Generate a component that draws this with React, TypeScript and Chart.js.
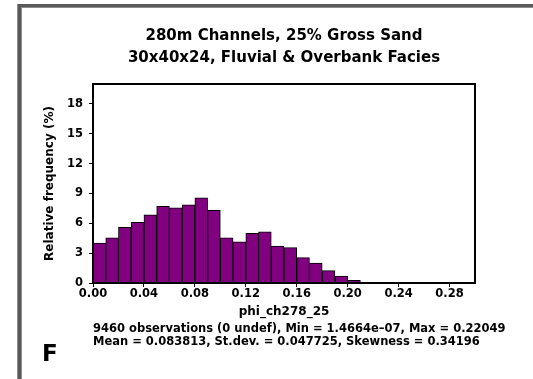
import React, { useEffect, useRef } from "react";
import { Chart, registerables } from "chart.js";

Chart.register(...registerables);

// Histogram bins (bin centres, width 0.01) and relative frequencies (%)
const binCenters = [
  0.005, 0.015, 0.025, 0.035, 0.045, 0.055, 0.065, 0.075, 0.085, 0.095,
  0.105, 0.115, 0.125, 0.135, 0.145, 0.155, 0.165, 0.175, 0.185, 0.195, 0.205,
];
const relFreq = [
  4.0, 4.55, 5.6, 6.1, 6.85, 7.7, 7.55, 7.85, 8.55, 7.3,
  4.55, 4.15, 5.0, 5.15, 3.7, 3.55, 2.55, 2.0, 1.25, 0.7, 0.27,
];

const xMin = 0;
const xMax = 0.3;
const xStep = 0.04;
const yMin = 0;
const yMax = 20;
const yStep = 3;

const titleLines = ["280m Channels, 25% Gross Sand", "30x40x24, Fluvial & Overbank Facies"];
const xLabel = "phi_ch278_25";
const yLabel = "Relative frequency (%)";
const statsLines = [
  "9460 observations (0 undef), Min = 1.4664e\u201307, Max = 0.22049",
  "Mean = 0.083813, St.dev. = 0.047725, Skewness = 0.34196",
];
const panelLetter = "F";

const FONT = "DejaVu Sans";

const decor = {
  id: "decor",
  beforeDraw(chart: any) {
    const { ctx, width, height } = chart;
    ctx.save();
    ctx.fillStyle = "#ffffff";
    ctx.fillRect(0, 0, width, height);
    // grey frame (top and left)
    ctx.fillStyle = "#8c8c8c";
    ctx.fillRect(17, 4, width - 17, 4);
    ctx.fillRect(17, 4, 5, height - 4);
    ctx.fillStyle = "#5a5a5a";
    ctx.fillRect(18, 4, width - 18, 3);
    ctx.fillRect(18, 4, 3, height - 4);
    ctx.restore();
  },
  afterDraw(chart: any) {
    const { ctx, chartArea } = chart;
    ctx.save();
    ctx.strokeStyle = "#000";
    ctx.lineWidth = 2;
    ctx.strokeRect(
      chartArea.left,
      chartArea.top,
      chartArea.right - chartArea.left,
      chartArea.bottom - chartArea.top
    );
    ctx.fillStyle = "#000";
    ctx.font = `bold 11.5px "${FONT}"`;
    ctx.textAlign = "left";
    ctx.textBaseline = "middle";
    statsLines.forEach((line, i) => {
      ctx.fillText(line, chartArea.left, chartArea.bottom + 46 + i * 13.5);
    });
    ctx.font = `bold 23px "${FONT}"`;
    ctx.textBaseline = "alphabetic";
    ctx.fillText(panelLetter, 42, 361);
    ctx.restore();
  },
};

export default function App() {
  const ref = useRef<HTMLCanvasElement | null>(null);

  useEffect(() => {
    if (!ref.current) return;
    const tickFont = { family: FONT, size: 11.5, weight: "bold" as const };
    const chart = new Chart(ref.current, {
      type: "bar",
      data: {
        datasets: [
          {
            data: binCenters.map((x, i) => ({ x, y: relFreq[i] })),
            backgroundColor: "#800080",
            borderColor: "#000000",
            borderWidth: 1,
            barPercentage: 1,
            categoryPercentage: 1,
          },
        ],
      },
      options: {
        animation: false,
        responsive: false,
        devicePixelRatio: 1,
        layout: { padding: { left: 0, right: 58, top: 0, bottom: 60 } },
        plugins: {
          legend: { display: false },
          tooltip: { enabled: false },
          title: {
            display: true,
            fullSize: false,
            text: titleLines,
            color: "#000",
            font: { family: FONT, size: 15, weight: "bold", lineHeight: "22px" },
            padding: { top: 25, bottom: 15 },
          },
        },
        scales: {
          x: {
            type: "linear",
            min: xMin,
            max: xMax,
            offset: false,
            ticks: {
              stepSize: xStep,
              includeBounds: false,
              autoSkip: false,
              maxRotation: 0,
              color: "#000",
              font: tickFont,
              padding: 0,
              callback: (v: any) => Number(v).toFixed(2),
            },
            grid: {
              display: true,
              offset: false,
              drawOnChartArea: false,
              drawTicks: true,
              tickLength: 4,
              color: "#000",
              lineWidth: 1,
            },
            border: { display: true, color: "#000", width: 2 },
            title: {
              display: true,
              text: xLabel,
              color: "#000",
              font: { family: FONT, size: 12, weight: "bold" },
              padding: { top: 0, bottom: 0 },
            },
            afterFit: (s: any) => {
              s.height = 36;
            },
          },
          y: {
            type: "linear",
            min: yMin,
            max: yMax,
            ticks: {
              stepSize: yStep,
              includeBounds: false,
              color: "#000",
              font: tickFont,
              padding: 6,
            },
            grid: {
              display: true,
              drawOnChartArea: false,
              drawTicks: true,
              tickLength: 4,
              color: "#000",
              lineWidth: 1,
            },
            border: { display: true, color: "#000", width: 2 },
            title: {
              display: true,
              text: yLabel,
              color: "#000",
              font: { family: FONT, size: 12, weight: "bold" },
              padding: { top: 43, bottom: 0 },
            },
            afterFit: (s: any) => {
              s.width = 93;
            },
          },
        },
      },
      plugins: [decor],
    });
    return () => chart.destroy();
  }, []);

  return (
    <div style={{ position: "absolute", left: 0, top: 0, width: 533, height: 379 }}>
      <canvas ref={ref} width={533} height={379} style={{ display: "block" }} />
    </div>
  );
}
